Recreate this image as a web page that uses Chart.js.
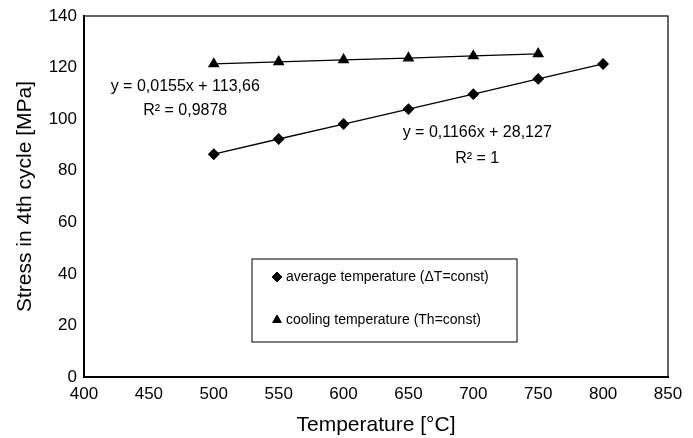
<!DOCTYPE html>
<html>
<head>
<meta charset="utf-8">
<script src="https://cdn.jsdelivr.net/npm/chart.js@4"></script>
<style>
  html, body { margin: 0; padding: 0; background: #fff; }
  #wrap { width: 693px; height: 438px; }
</style>
</head>
<body>
<div id="wrap"><canvas id="myChart" width="693" height="438"></canvas></div>
<script>
// data
const avgTemps = [500, 550, 600, 650, 700, 750, 800];
const avgStress = [86.4, 92.3, 98.1, 103.9, 109.7, 115.6, 121.4];
const coolTemps = [500, 550, 600, 650, 700, 750];
const coolStress = [121.4, 122.2, 123.0, 123.7, 124.5, 125.3];

const legendLabels = ['average temperature (\u0394T=const)', 'cooling temperature (Th=const)'];
const eqCool = ['y = 0,0155x + 113,66', 'R\u00b2 = 0,9878'];
const eqAvg = ['y = 0,1166x + 28,127', 'R\u00b2 = 1'];

const FONT = 'Liberation Sans, Arial, sans-serif';

function pairs(xs, ys) {
    return xs.map((x, i) => ({ x: x, y: ys[i] }));
}

// frame, equations and legend box
const extras = {
    id: 'extras',
    afterDraw(chart) {
        const c = chart.ctx;
        const a = chart.chartArea;
        const sx = chart.scales.x, sy = chart.scales.y;
        c.save();
        c.strokeStyle = '#000';
        c.lineWidth = 1.2;
        c.strokeRect(a.left, a.top, a.right - a.left, a.bottom - a.top);

        c.fillStyle = '#000';
        c.font = '16px ' + FONT;
        c.textAlign = 'center';
        c.textBaseline = 'middle';
        c.fillText(eqCool[0], sx.getPixelForValue(478), sy.getPixelForValue(112.8));
        c.fillText(eqCool[1], sx.getPixelForValue(478), sy.getPixelForValue(103.4));
        c.fillText(eqAvg[0], sx.getPixelForValue(703), sy.getPixelForValue(94.6));
        c.fillText(eqAvg[1], sx.getPixelForValue(703), sy.getPixelForValue(84.7));

        // legend
        const lx = a.left + 168, ly = a.top + 243;
        c.lineWidth = 1;
        c.strokeRect(lx, ly, 265, 83);
        c.font = '14px ' + FONT;
        c.textAlign = 'left';
        const marks = ['rectRot', 'triangle'];
        [18, 61].forEach((dy, i) => {
            Chart.helpers.drawPoint(c, { pointStyle: marks[i], radius: 5, borderWidth: 1 }, lx + 25, ly + dy);
            c.fillStyle = '#000';
            c.fillText(legendLabels[i], lx + 34, ly + dy);
        });
        c.restore();
    }
};

const ctx = document.getElementById('myChart').getContext('2d');
const chart = new Chart(ctx, {
    type: 'scatter',
    data: {
        datasets: [{
            label: legendLabels[0],
            data: pairs(avgTemps, avgStress),
            showLine: true,
            borderColor: '#000',
            backgroundColor: '#000',
            borderWidth: 1.3,
            pointStyle: 'rectRot',
            pointRadius: 5
        }, {
            label: legendLabels[1],
            data: pairs(coolTemps, coolStress),
            showLine: true,
            borderColor: '#000',
            backgroundColor: '#000',
            borderWidth: 1.3,
            pointStyle: 'triangle',
            pointRadius: 5.5
        }]
    },
    options: {
        responsive: false,
        animation: false,
        layout: { padding: { top: 16, right: 25, left: 0, bottom: 0 } },
        plugins: {
            legend: { display: false },
            tooltip: { enabled: false }
        },
        scales: {
            x: {
                type: 'linear',
                min: 400, max: 850,
                ticks: { stepSize: 50, color: '#000', font: { family: FONT, size: 17 }, padding: 2 },
                grid: { display: false, drawTicks: true, tickLength: 5, tickColor: '#000' },
                border: { color: '#000', width: 2 },
                title: { display: true, text: 'Temperature [\u00b0C]', color: '#000', font: { family: FONT, size: 21 }, padding: { top: 4, bottom: 0 } },
                afterFit(s) { s.height = 61; }
            },
            y: {
                min: 0, max: 140,
                ticks: { stepSize: 20, color: '#000', font: { family: FONT, size: 17 }, padding: 2 },
                grid: { display: false, drawTicks: true, tickLength: 5, tickColor: '#000' },
                border: { color: '#000', width: 2 },
                title: { display: true, text: 'Stress in 4th cycle [MPa]', color: '#000', font: { family: FONT, size: 21 }, padding: { top: 13, bottom: 0 } },
                afterFit(s) { s.width = 84; }
            }
        }
    },
    plugins: [extras]
});
</script>
</body>
</html>
